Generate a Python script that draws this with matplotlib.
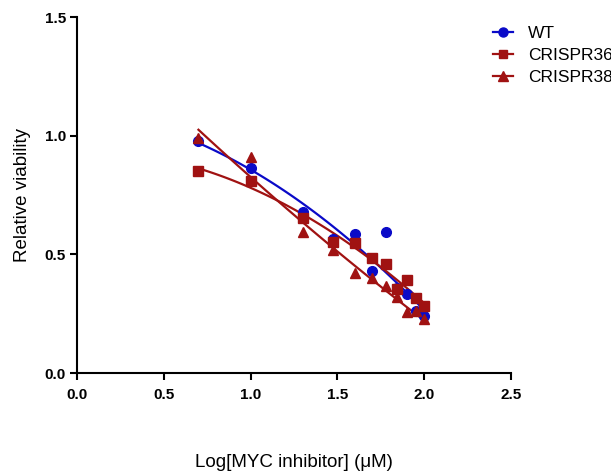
import numpy as np
import matplotlib.pyplot as plt

plt.rcParams['font.family'] = ['Liberation Sans', 'DejaVu Sans']

# log concentration
x = [0.7, 1.0, 1.3, 1.477, 1.6, 1.699, 1.778, 1.845, 1.903, 1.954, 2.0]

wt = [0.978, 0.864, 0.68, 0.563, 0.584, 0.43, 0.593, 0.357, 0.332, 0.261, 0.241]
crispr36 = [0.853, 0.809, 0.654, 0.553, 0.549, 0.483, 0.458, 0.353, 0.392, 0.317, 0.284]
crispr38 = [0.99, 0.911, 0.595, 0.518, 0.42, 0.402, 0.367, 0.319, 0.256, 0.26, 0.226]

blue = '#0a0ac8'
red = '#a01212'

fig = plt.figure(figsize=(6.11, 4.75), dpi=100)
ax = fig.add_axes([0.126, 0.2147, 0.710, 0.7495])

xx = np.linspace(min(x), max(x), 100)
series = [('WT', wt, blue, 'o', 7),
          ('CRISPR36', crispr36, red, 's', 6.5),
          ('CRISPR38', crispr38, red, '^', 7)]
for name, y, c, m, ms in series:
    coef = np.polyfit(x, y, 2)
    ax.plot(xx, np.polyval(coef, xx), color=c, lw=1.6, zorder=2)
    ax.plot(x, y, ls='none', marker=m, ms=ms, color=c, zorder=3)
    # legend proxy
    ax.plot([], [], color=c, lw=1.6, marker=m, ms=ms - 0.5, label=name)

ax.set_xlim(0, 2.5)
ax.set_ylim(0, 1.5)
ax.set_xticks([0, 0.5, 1.0, 1.5, 2.0, 2.5])
ax.set_yticks([0, 0.5, 1.0, 1.5])
ax.xaxis.set_major_formatter(plt.FormatStrFormatter('%.1f'))
ax.yaxis.set_major_formatter(plt.FormatStrFormatter('%.1f'))

for s in ['top', 'right']:
    ax.spines[s].set_visible(False)
for s in ['left', 'bottom']:
    ax.spines[s].set_linewidth(1.5)
ax.tick_params(direction='out', width=1.5, length=5, labelsize=11)
ax.tick_params(axis='x', pad=6)
ax.tick_params(axis='y', pad=3)
for lab in ax.get_xticklabels() + ax.get_yticklabels():
    lab.set_fontweight('bold')

ax.set_xlabel('Log[MYC inhibitor] (μM)', fontsize=13.5, labelpad=37)
ax.set_ylabel('Relative viability', fontsize=13.5, labelpad=10)

fig.legend(loc='upper left', bbox_to_anchor=(0.807, 0.945), frameon=False,
           fontsize=12.5, handlelength=1.15, handletextpad=0.85,
           labelspacing=0.4, borderpad=0, borderaxespad=0)

fig.savefig('out.png', dpi=100)
